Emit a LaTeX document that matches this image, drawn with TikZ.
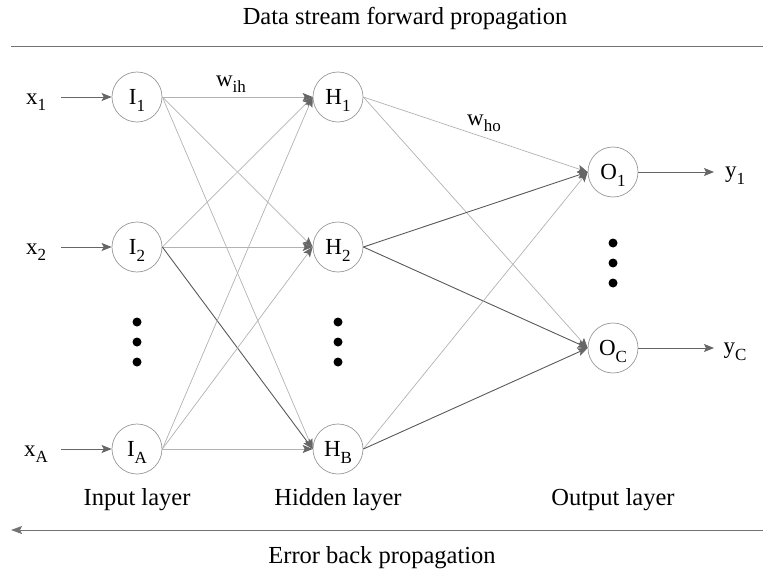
\documentclass[tikz,border=0pt]{standalone}
\usepackage{fontspec}
\setmainfont{Liberation Serif}
\usetikzlibrary{arrows.meta}
\newcommand{\sbs}[1]{\raisebox{-6.5pt}[0pt][0pt]{\fontsize{17}{17}\selectfont #1}}
\begin{document}
\begin{tikzpicture}[x=1pt,y=-1pt,
  neuron/.style={circle,draw=black!40,fill=white,line width=0.7pt,minimum size=50pt,inner sep=0pt,font=\fontsize{23}{24}\selectfont},
  lbl/.style={inner sep=2pt,font=\fontsize{23}{24}\selectfont},
  big/.style={inner sep=2pt,font=\fontsize{24.5}{28}\selectfont},
  tip/.style={-{Stealth[length=10pt,width=8pt,inset=2pt,color=black!60]}},
  light/.style={tip,draw=black!30,line width=0.7pt},
  dark/.style={tip,draw=black!65,line width=0.9pt},
  io/.style={tip,draw=black!60,line width=1pt},
  rule/.style={draw=black!55,line width=1pt},
  vdot/.style={circle,fill=black,inner sep=0pt,minimum size=9pt}]
\useasboundingbox (0,0) rectangle (763,578);

% neurons
\node[neuron] (I1) at (137,97) {I\sbs{1}};
\node[neuron] (I2) at (137,247) {I\sbs{2}};
\node[neuron] (IA) at (137,449) {I\sbs{A}};
\node[neuron] (H1) at (338,97) {H\sbs{1}};
\node[neuron] (H2) at (338,247) {H\sbs{2}};
\node[neuron] (HB) at (338,449) {H\sbs{B}};
\node[neuron] (O1) at (613,172) {O\sbs{1}};
\node[neuron] (OC) at (613,348) {O\sbs{C}};

% inputs and outputs
\node[lbl] (x1) at (36,99) {x\sbs{1}};
\node[lbl] (x2) at (36,249) {x\sbs{2}};
\node[lbl] (xA) at (36,451) {x\sbs{A}};
\node[lbl] (y1) at (735,175) {y\sbs{1}};
\node[lbl] (yC) at (735,351) {y\sbs{C}};
\coordinate (s1) at (61,97);
\coordinate (s2) at (61,247);
\coordinate (sA) at (61,449);
\coordinate (e1) at (714,172);
\coordinate (eC) at (714,348);
\draw[io] (s1) -- (I1);
\draw[io] (s2) -- (I2);
\draw[io] (sA) -- (IA);
\draw[io] (O1) -- (e1);
\draw[io] (OC) -- (eC);

% input -> hidden
\draw[light] (I1.east) -- (H1.west);
\draw[light] (I1.east) -- (H2.west);
\draw[light] (I1.east) -- (HB.west);
\draw[light] (I2.east) -- (H1.west);
\draw[light] (I2.east) -- (H2.west);
\draw[dark]  (I2.east) -- (HB.west);
\draw[light] (IA.east) -- (H1.west);
\draw[light] (IA.east) -- (H2.west);
\draw[light] (IA.east) -- (HB.west);

% hidden -> output
\draw[light] (H1.east) -- (O1.west);
\draw[light] (H1.east) -- (OC.west);
\draw[dark]  (H2.east) -- (O1.west);
\draw[dark]  (H2.east) -- (OC.west);
\draw[light] (HB.east) -- (O1.west);
\draw[dark]  (HB.east) -- (OC.west);

% weights
\node[lbl] (wih) at (231,81) {w\sbs{ih}};
\node[lbl] (who) at (484,120) {w\sbs{ho}};

% ellipses
\foreach \yy [count=\k] in {322,342,362} {
  \node[vdot] (di\k) at (137,\yy) {};
  \node[vdot] (dh\k) at (338,\yy) {};
}
\foreach \yy [count=\k] in {243,263,283} {
  \node[vdot] (do\k) at (613,\yy) {};
}

% layer names
\node[big] (inl) at (137,500) {Input layer};
\node[big] (hil) at (338,500) {Hidden layer};
\node[big] (oul) at (613,500) {Output layer};

% propagation directions
\node[big] (fwd) at (405,19) {Data stream forward propagation};
\coordinate (tl) at (11,47);
\coordinate (tr) at (763,47);
\draw[rule] (tl) -- (tr);
\coordinate (bl) at (11,530);
\coordinate (br) at (763,530);
\draw[rule,-{Stealth[length=11pt,width=8pt,inset=2pt]}] (br) -- (bl);
\node[big] (bwd) at (382,558) {Error back propagation};
\end{tikzpicture}
\end{document}
